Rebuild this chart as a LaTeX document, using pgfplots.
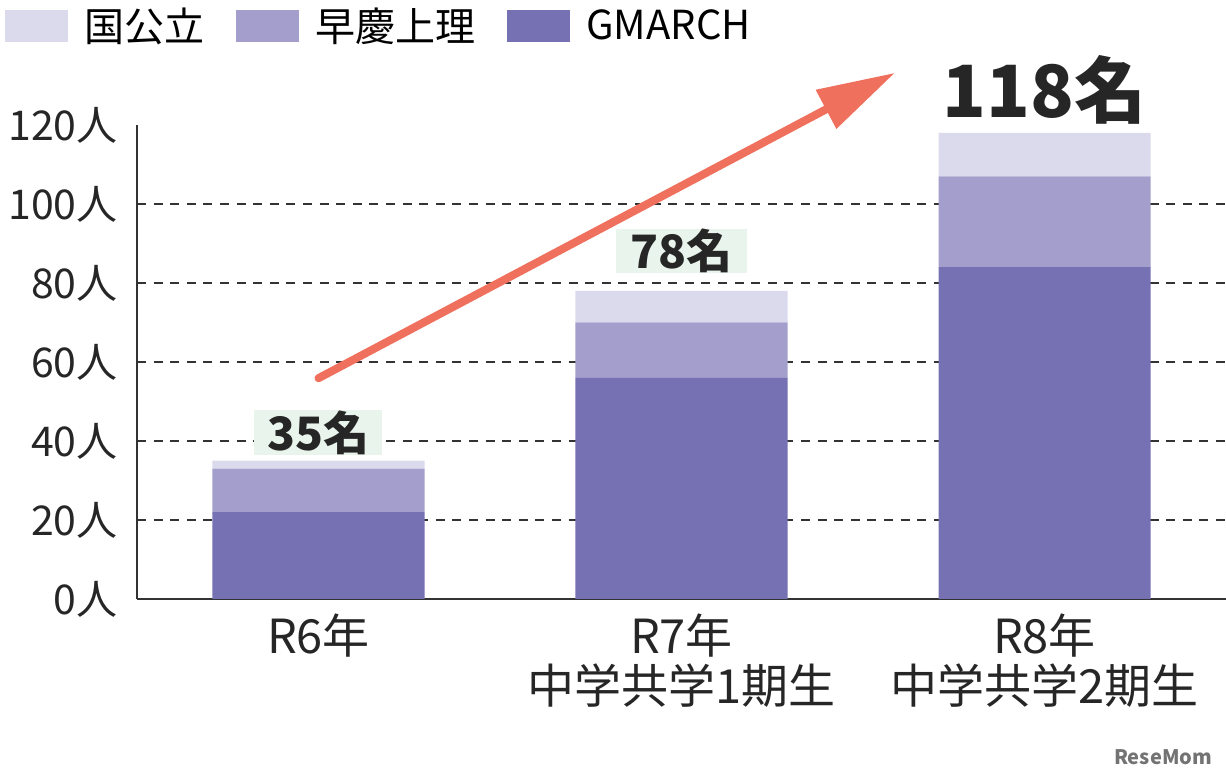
\documentclass[border=0pt]{standalone}
\usepackage{fontspec}
\usepackage{pgfplots}
\pgfplotsset{compat=1.18}
\usetikzlibrary{arrows.meta}
\setmainfont{Noto Sans CJK JP}
\definecolor{kokko}{HTML}{DBD9EC}
\definecolor{soukei}{HTML}{A39ECC}
\definecolor{gmarch}{HTML}{7571B2}
\definecolor{arrowc}{HTML}{F0705E}
\definecolor{lblbg}{HTML}{E9F5EC}
\definecolor{axc}{HTML}{333333}
\pgfplotsset{myleg/.style={legend image code/.code={\fill[##1] (0pt,-8pt) rectangle (31.5pt,8pt);}}}
\begin{document}
\begin{tikzpicture}
\useasboundingbox (-68.5pt,-91pt) rectangle (544.5pt,299.5pt);
\begin{axis}[
  at={(0,0)}, anchor=south west,
  scale only axis, width=544.5pt, height=237pt,
  ybar stacked, bar width=106pt,
  xmin=-0.5, xmax=2.5, ymin=0, ymax=120,
  xtick={0,1,2},
  xticklabels={R6年,{R7年\\中学共学1期生},{R8年\\中学共学2期生}},
  xticklabel style={align=center, inner sep=0pt, yshift=-7pt, font=\fontsize{23.5}{25}\selectfont, text=black!85},
  ytick={0,20,...,120},
  yticklabels={0人,20人,40人,60人,80人,100人,120人},
  yticklabel style={inner sep=0pt, xshift=-9.5pt, font=\fontsize{20.5}{22}\selectfont, text=black!85},
  extra y ticks={20,40,60,80,100}, extra y tick labels={},
  extra y tick style={grid=major, major tick length=0pt},
  major grid style={axc, line width=1pt, dash pattern=on 4.5pt off 3.8pt},
  axis x line=bottom, axis y line=left,
  axis line style={-, axc, line width=1pt},
  major tick length=0pt,
  clip=false,
  legend columns=3, reverse legend,
  legend style={draw=none, fill=none, inner sep=0pt, at={(0,1)}, anchor=west,
    xshift=-66pt, yshift=49.5pt, font=\fontsize{20}{24}\selectfont,
    /tikz/every odd column/.append style={column sep=6pt},
    /tikz/every even column/.append style={column sep=14pt}},
]
\addplot[fill=gmarch, draw=none, myleg] coordinates {(0,22) (1,56) (2,84)};
\addplot[fill=soukei, draw=none, myleg] coordinates {(0,11) (1,14) (2,23)};
\addplot[fill=kokko, draw=none, myleg] coordinates {(0,2) (1,8) (2,11)};
\legend{GMARCH,早慶上理,国公立}
\node[fill=lblbg, inner sep=0pt, minimum width=64pt, minimum height=22.5pt, font=\bfseries\fontsize{23}{23}\selectfont, text=black!85] at (axis cs:0,42.15) {35名};
\node[fill=lblbg, inner sep=0pt, minimum width=65pt, minimum height=22pt, font=\bfseries\fontsize{23}{23}\selectfont, text=black!85] at (axis cs:1,88.2) {78名};
\node[inner sep=0pt, font=\bfseries\fontsize{36}{36}\selectfont, text=black!85] at (axis cs:2,128.9) {118名};
\draw[arrowc, line width=4pt, line cap=round, -{Triangle[length=39pt,width=21pt]}] (axis cs:0,55.9) -- (axis cs:1.588,133.2);
\end{axis}
\node[text=black!55, font=\bfseries\fontsize{10}{10}\selectfont] at (513pt,-79pt) {ReseMom};
\end{tikzpicture}
\end{document}
